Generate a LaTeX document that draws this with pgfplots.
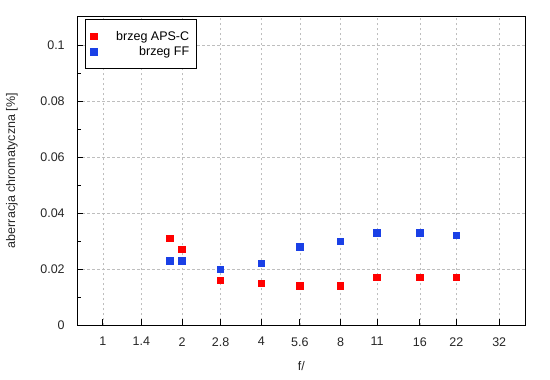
\documentclass[border=0pt]{standalone}
\usepackage{pgfplots}
\pgfplotsset{compat=1.18}
\usepackage{fontspec}
\setmainfont{Liberation Sans}
\definecolor{myred}{RGB}{255,0,0}
\definecolor{myblue}{RGB}{26,64,230}
\definecolor{gridgray}{RGB}{190,190,190}
\begin{document}
\begin{tikzpicture}
\path[use as bounding box] (0,0) rectangle (550bp,380bp);
\begin{axis}[
  at={(77.3bp,54.7bp)}, anchor=south west,
  scale only axis, width=448bp, height=309.3bp,
  xmode=log, log basis x=2,
  xmin=0.8, xmax=40.2,
  ymin=0, ymax=0.1105,
  xtick={1,1.4,2,2.8,4,5.6,8,11,16,22,32},
  xticklabels={1,1.4,2,2.8,4,5.6,8,11,16,22,32},
  ytick={0,0.02,0.04,0.06,0.08,0.1},
  yticklabels={0,0.02,0.04,0.06,0.08,0.1},
  minor ytick={0.01,0.03,0.05,0.07,0.09},
  scaled y ticks=false,
  tick align=inside,
  major tick length=6bp, minor tick length=4bp,
  xtick pos=bottom, ytick pos=left,
  xminorticks=false,
  grid=major,
  major grid style={gridgray, line width=0.6bp, dash pattern=on 2.5bp off 2.5bp},
  axis line style={line width=0.9bp, black},
  every tick/.style={black, line width=0.9bp},
  tick label style={font=\fontsize{12.5bp}{14bp}\selectfont, text=black!85},
  /pgf/number format/assume math mode=true,
  xticklabel style={anchor=center, yshift=-16.4bp},
  yticklabel style={anchor=east, xshift=-9.1bp},
  xlabel={f/},
  ylabel={aberracja chromatyczna [\%]},
  label style={font=\fontsize{12.5bp}{14bp}\selectfont, text=black!85},
  xlabel style={at={(axis description cs:0.5,-0.1316)}, anchor=center},
  ylabel style={at={(axis description cs:-0.1458,0.5)}, anchor=center, rotate=0},
  legend style={at={(0.018,0.989)}, anchor=north west,
    font=\fontsize{12.5bp}{14bp}\selectfont,
    draw=black, line width=0.9bp,
    inner xsep=5bp, inner ysep=9.5bp,
    row sep=1bp,
    cells={anchor=east},
    legend image post style={line width=0.4bp, xshift=4.5bp}},
  legend cell align=right,
]
\addplot[only marks, mark=square*, mark size=3.2bp, color=myred, mark options={draw=myred, fill=myred, line width=0pt}]
  coordinates {(1.8,0.031) (2,0.027) (2.8,0.016) (4,0.015) (5.6,0.014) (8,0.014) (11,0.017) (16,0.017) (22,0.017)};
\addlegendentry{\hspace{17bp}brzeg APS-C}
\addplot[only marks, mark=square*, mark size=3.2bp, color=myblue, mark options={draw=myblue, fill=myblue, line width=0pt}]
  coordinates {(1.8,0.023) (2,0.023) (2.8,0.020) (4,0.022) (5.6,0.028) (8,0.030) (11,0.033) (16,0.033) (22,0.032)};
\addlegendentry{brzeg FF}
\end{axis}
\end{tikzpicture}
\end{document}
